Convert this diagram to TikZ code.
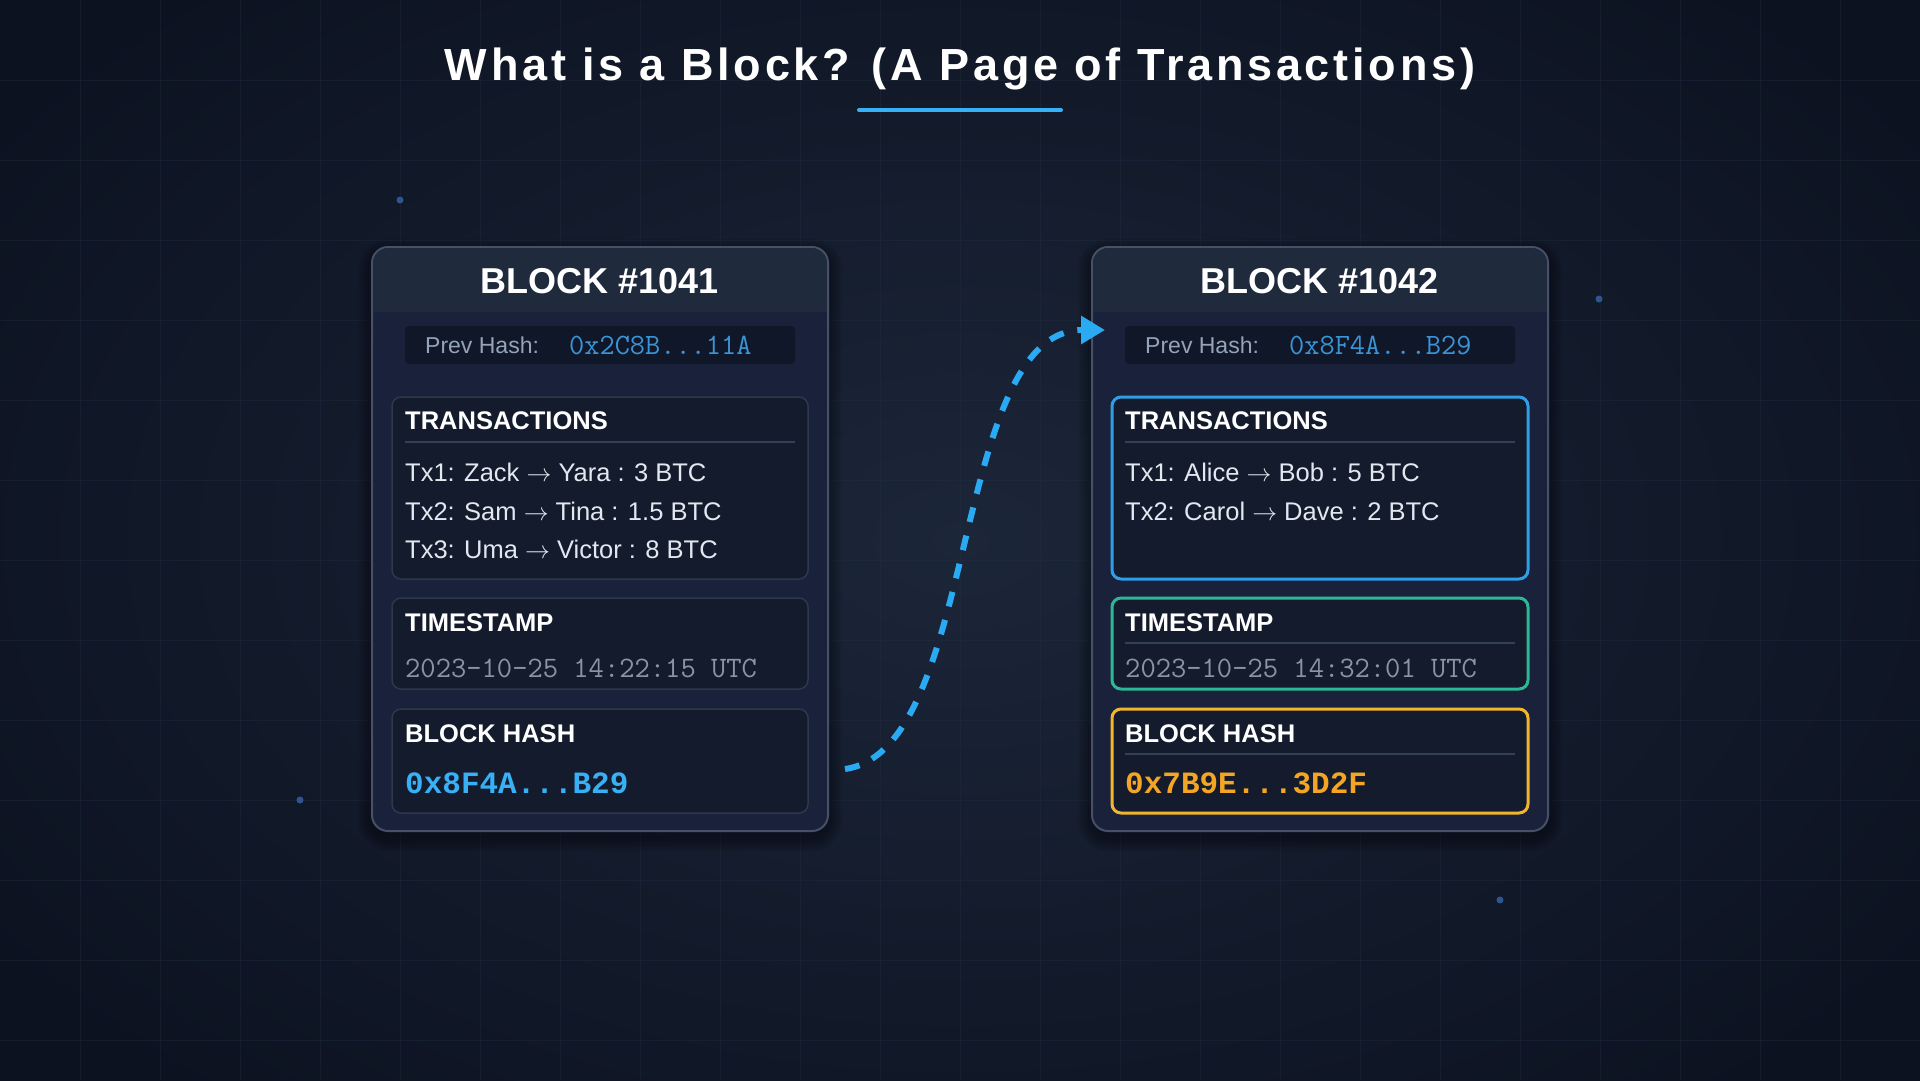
\documentclass[tikz,border=0pt]{standalone}
\usepackage{fontspec}
\setmainfont{Liberation Sans}
\newfontfamily\hashfont{Liberation Mono}
\usetikzlibrary{arrows.meta}
\definecolor{bgin}{HTML}{1C2639}
\definecolor{bgout}{HTML}{0C1220}
\definecolor{gridc}{HTML}{243044}
\definecolor{dotc}{HTML}{2C5592}
\definecolor{cardhead}{HTML}{1F2A3C}
\definecolor{cardbody}{HTML}{19223A}
\definecolor{cardborder}{HTML}{445166}
\definecolor{prevfill}{HTML}{0F1729}
\definecolor{subfill}{HTML}{131B2C}
\definecolor{subborder}{HTML}{2C384B}
\definecolor{sepc}{HTML}{334155}
\definecolor{labelc}{HTML}{94A3B8}
\definecolor{prevhash}{HTML}{3B94D6}
\definecolor{txc}{HTML}{E2E8F0}
\definecolor{tsc}{HTML}{8A94A4}
\definecolor{hashblue}{HTML}{38B0F5}
\definecolor{hashorange}{HTML}{F5A524}
\definecolor{accblue}{HTML}{2E9FE6}
\definecolor{accteal}{HTML}{2BB894}
\definecolor{accamber}{HTML}{F2B52E}
\definecolor{arrowc}{HTML}{2AAAF2}
\newcommand{\txarrow}{$\rightarrow$}
\tikzset{
  card/.style={draw=cardborder, line width=2pt, rounded corners=16pt, fill=cardbody, minimum width=456pt, minimum height=584pt, inner sep=0},
  prevbar/.style={fill=prevfill, rounded corners=4pt, minimum width=390pt, minimum height=38pt, inner sep=0},
  subbox/.style={draw=subborder, fill=subfill, line width=1.5pt, rounded corners=9pt, minimum width=416pt, inner sep=0},
  accbox/.style={fill=subfill, line width=3pt, rounded corners=9pt, minimum width=416pt, inner sep=0},
  blocktitle/.style={anchor=base, text=white, font=\fontsize{36}{42}\selectfont\bfseries, inner sep=0},
  hdr/.style={anchor=base west, text=white, font=\fontsize{25.5}{30}\selectfont\bfseries, inner sep=0},
  txline/.style={anchor=base west, text=txc, font=\fontsize{25.5}{30}\selectfont, inner sep=0},
  prevlabel/.style={anchor=base west, text=labelc, font=\fontsize{23}{28}\selectfont, inner sep=0},
  prevval/.style={anchor=base west, text=prevhash, font=\fontsize{29.5}{34}\selectfont\ttfamily, inner sep=0},
  tsval/.style={anchor=base west, text=tsc, font=\fontsize{29.7}{34}\selectfont\ttfamily, inner sep=0},
  hashval/.style={anchor=base west, font=\fontsize{31}{36}\selectfont\hashfont\bfseries, inner sep=0},
  sepline/.style={draw=sepc, line width=1.5pt},
  flow/.style={draw=arrowc, line width=6pt, dash pattern=on 15pt off 14pt, -{Triangle[length=24pt,width=27pt]}},
  bgdot/.style={fill=dotc, circle, minimum size=7pt, inner sep=0}
}
\begin{document}
\begin{tikzpicture}[x=1pt,y=-1pt]
\useasboundingbox (0,0) rectangle (1920,1080);
% background
\shade[inner color=bgin, outer color=bgout] (-200,-200) rectangle (2120,1280);
\foreach \gx in {80,160,...,1840} \draw[gridc, line width=0.8pt, opacity=0.35] (\gx,0) -- (\gx,1080);
\foreach \gy in {80,160,...,1040} \draw[gridc, line width=0.8pt, opacity=0.35] (0,\gy) -- (1920,\gy);
\node[bgdot] (d1) at (400,200) {};
\node[bgdot] (d2) at (1599,299) {};
\node[bgdot] (d3) at (300,800) {};
\node[bgdot] (d4) at (1500,900) {};
% title
\node[anchor=base, text=white, font=\fontsize{45}{54}\selectfont\bfseries\addfontfeature{LetterSpace=8.4}, inner sep=0] (title) at (960,80) {What is a Block? (A Page of Transactions)};
\draw[hashblue, line width=4pt, line cap=round] (859,110) -- (1061,110);
% shadows
\foreach \s in {2,4,...,14} {
  \fill[black, opacity=0.05, rounded corners=16pt+\s pt] (372-\s,247-\s+6) rectangle (828+\s,831+\s+6);
  \fill[black, opacity=0.05, rounded corners=16pt+\s pt] (1092-\s,247-\s+6) rectangle (1548+\s,831+\s+6);
}
% ===== Block 1 =====
\node[card] (card1) at (600,539) {};
\begin{scope}
  \clip[rounded corners=16pt] (373,248) rectangle (827,830);
  \fill[cardhead] (373,248) rectangle (827,312);
\end{scope}
\node[blocktitle] (t1) at (600,293) {BLOCK \#1041};
\node[prevbar] (pb1) at (600,345) {};
\node[prevlabel] (pl1) at (425,353) {Prev Hash:};
\node[prevval] (pv1) at (569,354) {0x2C8B...11A};
\node[subbox, minimum height=182pt] (tx1) at (600,488) {};
\node[hdr] (txh1) at (405,429) {TRANSACTIONS};
\draw[sepline] (405,442) -- (795,442);
\node[txline] (tx1a) at (405,481) {Tx1: Zack \txarrow{} Yara : 3 BTC};
\node[txline] (tx1b) at (405,520) {Tx2: Sam \txarrow{} Tina : 1.5 BTC};
\node[txline] (tx1c) at (405,558) {Tx3: Uma \txarrow{} Victor : 8 BTC};
\node[subbox, minimum height=91pt] (ts1) at (600,643.5) {};
\node[hdr] (tsh1) at (405,631) {TIMESTAMP};
\node[tsval] (tsv1) at (405,677) {2023-10-25 14:22:15 UTC};
\node[subbox, minimum height=104pt] (bh1) at (600,761) {};
\node[hdr] (bhh1) at (405,742) {BLOCK HASH};
\node[hashval, text=hashblue] (bhv1) at (405,793) {0x8F4A...B29};
% ===== Block 2 =====
\node[card] (card2) at (1320,539) {};
\begin{scope}
  \clip[rounded corners=16pt] (1093,248) rectangle (1547,830);
  \fill[cardhead] (1093,248) rectangle (1547,312);
\end{scope}
\node[blocktitle] (t2) at (1320,293) {BLOCK \#1042};
\node[prevbar] (pb2) at (1320,345) {};
\node[prevlabel] (pl2) at (1145,353) {Prev Hash:};
\node[prevval] (pv2) at (1289,354) {0x8F4A...B29};
\node[accbox, draw=accblue, minimum height=182pt] (tx2) at (1320,488) {};
\node[hdr] (txh2) at (1125,429) {TRANSACTIONS};
\draw[sepline] (1125,442) -- (1515,442);
\node[txline] (tx2a) at (1125,481) {Tx1: Alice \txarrow{} Bob : 5 BTC};
\node[txline] (tx2b) at (1125,520) {Tx2: Carol \txarrow{} Dave : 2 BTC};
\node[accbox, draw=accteal, minimum height=91pt] (ts2) at (1320,643.5) {};
\node[hdr] (tsh2) at (1125,631) {TIMESTAMP};
\draw[sepline] (1125,643) -- (1515,643);
\node[tsval] (tsv2) at (1125,677) {2023-10-25 14:32:01 UTC};
\node[accbox, draw=accamber, minimum height=104pt] (bh2) at (1320,761) {};
\node[hdr] (bhh2) at (1125,742) {BLOCK HASH};
\draw[sepline] (1125,754) -- (1515,754);
\node[hashval, text=hashorange] (bhv2) at (1125,793) {0x7B9E...3D2F};
% ===== link arrow =====
\coordinate (arrS) at (845,769);
\coordinate (arrE) at (1105,330);
\draw[flow] (arrS) .. controls (980,750) and (950,330) .. (arrE);
\end{tikzpicture}
\end{document}
